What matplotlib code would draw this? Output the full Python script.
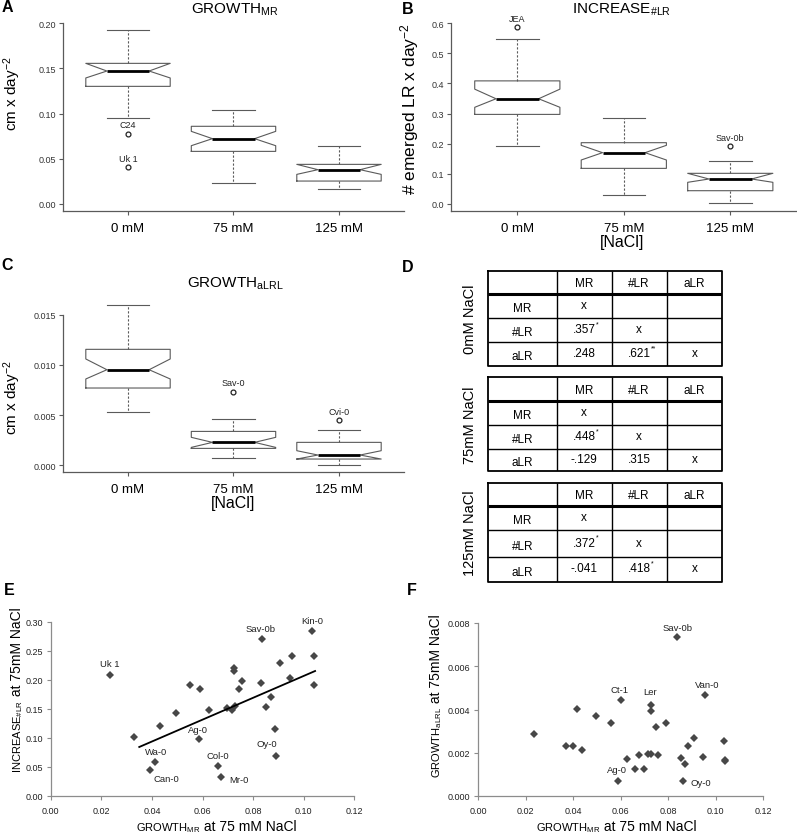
import numpy as np
import matplotlib
matplotlib.use("Agg")
from matplotlib import pyplot as plt

plt.rcParams['font.family'] = ['Liberation Sans', 'DejaVu Sans']
plt.rcParams['mathtext.fontset'] = 'custom'
plt.rcParams['mathtext.rm'] = 'Liberation Sans'
plt.rcParams['mathtext.it'] = 'Liberation Sans:italic'
plt.rcParams['mathtext.bf'] = 'Liberation Sans:bold'

W, H = 797, 837

# ---------------- data ----------------
conc_labels = ["0 mM", "75 mM", "125 mM"]

# GROWTH_MR box summaries
mr_whislo = [0.0950, 0.0229, 0.0163]
mr_q1 = [0.1301, 0.0580, 0.0251]
mr_cilo = [0.1394, 0.0643, 0.0325]
mr_med = [0.1471, 0.0721, 0.0377]
mr_cihi = [0.1556, 0.0802, 0.0436]
mr_q3 = [0.1556, 0.0858, 0.0436]
mr_whishi = [0.1926, 0.1039, 0.0640]
mr_fliers = [[0.0776, 0.0403], [], []]
mr_flier_names = [["C24", "Uk 1"], [], []]

# INCREASE_#LR box summaries
lr_whislo = [0.1919, 0.0299, 0.0022]
lr_q1 = [0.2970, 0.1175, 0.0432]
lr_cilo = [0.3206, 0.1453, 0.0711]
lr_med = [0.3490, 0.1697, 0.0821]
lr_cihi = [0.3810, 0.1941, 0.1010]
lr_q3 = [0.4085, 0.2029, 0.1010]
lr_whishi = [0.5467, 0.2839, 0.1409]
lr_fliers = [[0.5867], [], [0.1908]]
lr_flier_names = [["JEA"], [], ["Sav-0b"]]

# GROWTH_aLRL box summaries
alr_whislo = [0.00528, 0.00070, 0.00003]
alr_q1 = [0.00770, 0.00169, 0.00063]
alr_cilo = [0.00860, 0.00179, 0.00063]
alr_med = [0.00952, 0.00229, 0.00103]
alr_cihi = [0.01059, 0.00279, 0.00146]
alr_q3 = [0.01155, 0.00338, 0.00229]
alr_whishi = [0.01596, 0.00458, 0.00352]
alr_fliers = [[], [0.00733], [0.00451]]
alr_flier_names = [[], ["Sav-0"], ["Cvi-0"]]

# correlation tables (D)
cond_labels = ["0mM NaCl", "75mM NaCl", "125mM NaCl"]
traits = ["MR", "#LR", "aLR"]
corr_mr_lr = [0.357, 0.448, 0.372]
corr_mr_alr = [0.248, -0.129, -0.041]
corr_lr_alr = [0.621, 0.315, 0.418]
stars_mr_lr = ["*", "*", "*"]
stars_mr_alr = ["", "", ""]
stars_lr_alr = ["**", "", "*"]

# scatter E: GROWTH_MR vs INCREASE_#LR at 75 mM
e_x = [0.0233, 0.0329, 0.0394, 0.0411, 0.0431, 0.0494, 0.0551, 0.0586, 0.0591, 0.0624,
       0.0661, 0.0673, 0.0696, 0.0716, 0.0725, 0.0725, 0.0729, 0.0745, 0.0756, 0.0832,
       0.0837, 0.0850, 0.0869, 0.0886, 0.0890, 0.0907, 0.0946, 0.0955, 0.1034, 0.1039, 0.1042]
e_y = [0.2086, 0.1017, 0.0443, 0.0586, 0.1207, 0.1431, 0.1908, 0.0977, 0.1839, 0.1489,
       0.0523, 0.0328, 0.1523, 0.1489, 0.2201, 0.2155, 0.1552, 0.1839, 0.1977, 0.1954,
       0.2713, 0.1529, 0.1701, 0.1149, 0.0684, 0.2287, 0.2034, 0.2414, 0.2839, 0.2420, 0.1920]
e_names = ["Uk 1", "", "Can-0", "Wa-0", "", "", "", "Ag-0", "", "",
           "Col-0", "Mr-0", "", "", "", "", "", "", "", "",
           "Sav-0b", "", "", "", "Oy-0", "", "", "", "Kin-0", "", ""]
e_trend_x = [0.035, 0.1045]
e_trend_y = [0.0845, 0.2155]

# scatter F: GROWTH_MR vs GROWTH_aLRL at 75 mM
f_x = [0.0237, 0.0370, 0.0398, 0.0417, 0.0437, 0.0498, 0.0558, 0.0588, 0.0600, 0.0626,
       0.0663, 0.0677, 0.0700, 0.0717, 0.0728, 0.0727, 0.0727, 0.0748, 0.0759, 0.0793,
       0.0839, 0.0853, 0.0862, 0.0872, 0.0886, 0.0908, 0.0946, 0.0955, 0.1035, 0.1041, 0.1042]
f_y = [0.00285, 0.00231, 0.00231, 0.00403, 0.00215, 0.00371, 0.00339, 0.00069, 0.00442, 0.00169,
       0.00125, 0.00188, 0.00125, 0.00192, 0.00195, 0.00423, 0.00391, 0.00319, 0.00191, 0.00339,
       0.00735, 0.00177, 0.00069, 0.00149, 0.00231, 0.00266, 0.00182, 0.00466, 0.00254, 0.00166, 0.00160]
f_names = ["", "", "", "", "", "", "", "Ag-0", "Ct-1", "",
           "", "", "", "", "", "Ler", "", "", "", "",
           "Sav-0b", "", "Oy-0", "", "", "", "", "Van-0", "", "", ""]


# ---------------- helpers ----------------
def px_axes(l, t, r, b):
    return fig.add_axes([l / W, 1 - b / H, (r - l) / W, (b - t) / H])


def ftext(x, y, s, **kw):
    return fig.text(x / W, 1 - y / H, s, **kw)


def box_panel(ax, whislo, q1, cilo, med, cihi, q3, whishi, fliers, names, ylim, yticks, yfmt):
    stats = []
    for i in range(len(med)):
        stats.append(dict(whislo=whislo[i], q1=q1[i], cilo=cilo[i], med=med[i], cihi=cihi[i],
                          q3=q3[i], whishi=whishi[i], fliers=np.array(fliers[i])))
    grey = '#5a5a5a'
    ax.bxp(stats, positions=[1, 2, 3], widths=0.8, shownotches=True, showfliers=True,
           boxprops=dict(color=grey, lw=0.8),
           whiskerprops=dict(color=grey, lw=0.8, linestyle=(0, (2, 1.6))),
           capprops=dict(color=grey, lw=0.8),
           medianprops=dict(color='black', lw=2),
           flierprops=dict(marker='o', markersize=3.5, markerfacecolor='none',
                           markeredgecolor='#222222', markeredgewidth=0.9))
    for i in range(len(med)):
        for v, n in zip(fliers[i], names[i]):
            ax.annotate(n, (i + 1, v), xytext=(0, 9), textcoords='offset pixels',
                        ha='center', va='center', fontsize=6.5, color='#222222')
    ax.set_xlim(0.38, 3.62)
    ax.set_ylim(*ylim)
    ax.spines[['top', 'right']].set_visible(False)
    for s in ['left', 'bottom']:
        ax.spines[s].set_color(grey)
        ax.spines[s].set_linewidth(0.9)
    ax.spines['left'].set_bounds(ylim[0], yticks[-1])
    ax.set_yticks(yticks)
    ax.set_yticklabels([yfmt.format(v) for v in yticks])
    ax.set_xticks([1, 2, 3])
    ax.set_xticklabels(conc_labels)
    ax.tick_params(axis='y', labelsize=6.5, length=3, width=0.8, color=grey, pad=2, labelcolor='#333333')
    ax.tick_params(axis='x', labelsize=9.5, length=3, width=0.8, color=grey, pad=5)


def excel_axes(ax, xticks, yticks, xfmt, yfmt):
    grey = '#8c8c8c'
    ax.set_xlim(xticks[0], xticks[-1])
    ax.set_ylim(yticks[0], yticks[-1])
    ax.spines[['top', 'right']].set_visible(False)
    for s in ['left', 'bottom']:
        ax.spines[s].set_color(grey)
        ax.spines[s].set_linewidth(0.9)
    ax.set_xticks(xticks)
    ax.set_xticklabels([xfmt.format(v) for v in xticks])
    ax.set_yticks(yticks)
    ax.set_yticklabels([yfmt.format(v) for v in yticks])
    ax.tick_params(labelsize=6.5, length=3, width=0.8, color=grey, pad=2.5, labelcolor='#222222')
    ax.tick_params(axis='x', pad=4)


def split_label(x, y, small, big, small_size, big_size, rotation=0):
    ftext(x, y, small, fontsize=small_size, ha='right', va='baseline',
          rotation=rotation, rotation_mode='anchor')
    ftext(x, y, big, fontsize=big_size, ha='left', va='baseline',
          rotation=rotation, rotation_mode='anchor')


def r_text(v):
    return f"{v:.3f}".replace("0.", ".", 1)


fig = plt.figure(figsize=(W / 100, H / 100), dpi=100)

# ---------------- A ----------------
axA = px_axes(62.6, 17.1, 404.4, 211.9)
box_panel(axA, mr_whislo, mr_q1, mr_cilo, mr_med, mr_cihi, mr_q3, mr_whishi,
          mr_fliers, mr_flier_names, (-0.008, 0.208), [0, 0.05, 0.10, 0.15, 0.20], "{:.2f}")
ftext(235, 14, r"GROWTH$_{\mathregular{MR}}$", fontsize=11, ha='center', va='baseline')
ftext(12, 94, r"cm x day$^{\mathregular{-2}}$", fontsize=11, rotation=90, ha='center', va='center')

# ---------------- B ----------------
axB = px_axes(451.3, 17.1, 796.3, 211.9)
box_panel(axB, lr_whislo, lr_q1, lr_cilo, lr_med, lr_cihi, lr_q3, lr_whishi,
          lr_fliers, lr_flier_names, (-0.024, 0.624), [0, 0.1, 0.2, 0.3, 0.4, 0.5, 0.6], "{:.1f}")
ftext(622, 13.5, r"INCREASE$_{\#\mathregular{LR}}$", fontsize=11, ha='center', va='baseline')
ftext(410, 109, r"# emerged LR x day$^{\mathregular{-2}}$", fontsize=12.5, rotation=90, ha='center', va='center')
ftext(622, 242, "[NaCl]", fontsize=11.5, ha='center', va='center')

# ---------------- C ----------------
axC = px_axes(62.6, 299.2, 404.4, 472.8)
box_panel(axC, alr_whislo, alr_q1, alr_cilo, alr_med, alr_cihi, alr_q3, alr_whishi,
          alr_fliers, alr_flier_names, (-0.00064, 0.01664), [0, 0.005, 0.010, 0.015], "{:.3f}")
ftext(235, 288, r"GROWTH$_{\mathregular{aLRL}}$", fontsize=11, ha='center', va='baseline')
ftext(12, 398, r"cm x day$^{\mathregular{-2}}$", fontsize=11, rotation=90, ha='center', va='center')
ftext(233, 504, "[NaCl]", fontsize=11.5, ha='center', va='center')

# ---------------- D ----------------
col_edges = [0, 68.4, 123.4, 178.4, 234]
tables_px = [(271.7, [0, 23.3, 47.3, 71.0, 95.6]),
             (378.3, [0, 23.4, 47.4, 71.7, 94.0]),
             (484.0, [0, 22.7, 47.0, 74.3, 98.7])]
for k, (top, rows) in enumerate(tables_px):
    ax = px_axes(488.3, top, 722.3, top + rows[-1])
    ax.set_xlim(0, col_edges[-1])
    ax.set_ylim(rows[-1], 0)
    ax.axis('off')
    for x in col_edges[1:-1]:
        ax.vlines(x, 0, rows[-1], color='black', lw=1.0)
    for i, y in enumerate(rows[1:-1]):
        ax.hlines(y, 0, col_edges[-1], color='black', lw=2.2 if i == 0 else 1.0)
    ax.plot([0, col_edges[-1], col_edges[-1], 0, 0], [0, 0, rows[-1], rows[-1], 0],
            color='black', lw=1.3, clip_on=False)
    cx = [(col_edges[j] + col_edges[j + 1]) / 2 for j in range(4)]
    cy = [(rows[j] + rows[j + 1]) / 2 for j in range(4)]
    for j, t in enumerate(traits):
        ax.text(cx[j + 1], cy[0] + 1, t, ha='center', va='center', fontsize=8.5)
        ax.text(cx[0], cy[j + 1] + 2, t, ha='center', va='center', fontsize=8.5)
        ax.text(cx[j + 1], cy[j + 1] - 1, "x", ha='center', va='center', fontsize=8.5)
    cells = [(2, 1, corr_mr_lr[k], stars_mr_lr[k]),
             (3, 1, corr_mr_alr[k], stars_mr_alr[k]),
             (3, 2, corr_lr_alr[k], stars_lr_alr[k])]
    for r, c, v, st in cells:
        t = ax.text(cx[c], cy[r] - 1, r_text(v), ha='center', va='center', fontsize=8.5)
        if st:
            ax.annotate(st, xy=(1.0, 0.95), xycoords=t, ha='left', va='center', fontsize=5)
    ftext(470, top + rows[-1] / 2, cond_labels[k], fontsize=10.5, rotation=90, ha='center', va='center')

# ---------------- E ----------------
axE = px_axes(50.7, 623, 354.3, 797)
axE.plot(e_x, e_y, 'D', color='#474747', markersize=4, markeredgewidth=0)
axE.plot(e_trend_x, e_trend_y, color='black', lw=1.3)
e_offsets = {"Uk 1": (0, 12), "Sav-0b": (-2, 10), "Kin-0": (0, 11), "Ag-0": (-1, 10),
             "Wa-0": (1, 11), "Can-0": (16, -8), "Col-0": (0, 10), "Mr-0": (18, -3), "Oy-0": (-9, 13)}
for x, y, n in zip(e_x, e_y, e_names):
    if n:
        axE.annotate(n, (x, y), xytext=e_offsets[n], textcoords='offset pixels',
                     ha='center', va='center', fontsize=6.8, color='#222222')
excel_axes(axE, [0, 0.02, 0.04, 0.06, 0.08, 0.10, 0.12],
           [0, 0.05, 0.10, 0.15, 0.20, 0.25, 0.30], "{:.2f}", "{:.2f}")
split_label(200, 831, r"GROWTH$_{\mathregular{MR}}$", " at 75 mM NaCl", 8, 10)
split_label(21, 700, r"INCREASE$_{\#\mathregular{LR}}$", " at 75mM NaCl", 8, 10, rotation=90)

# ---------------- F ----------------
axF = px_axes(478, 624, 763, 797)
axF.plot(f_x, f_y, 'D', color='#474747', markersize=4, markeredgewidth=0)
f_offsets = {"Sav-0b": (0, 10), "Ct-1": (-1, 11), "Ler": (-1, 13), "Van-0": (2, 11),
             "Ag-0": (-1, 12), "Oy-0": (18, -1)}
for x, y, n in zip(f_x, f_y, f_names):
    if n:
        axF.annotate(n, (x, y), xytext=f_offsets[n], textcoords='offset pixels',
                     ha='center', va='center', fontsize=6.8, color='#222222')
excel_axes(axF, [0, 0.02, 0.04, 0.06, 0.08, 0.10, 0.12],
           [0, 0.002, 0.004, 0.006, 0.008], "{:.2f}", "{:.3f}")
split_label(600, 831, r"GROWTH$_{\mathregular{MR}}$", " at 75 mM NaCl", 8, 10)
split_label(440, 707, r"GROWTH$_{\mathregular{aLRL}}$", " at 75mM NaCl", 8, 10, rotation=90)

# ---------------- panel letters ----------------
for s, x, y in [("A", 7, 8), ("B", 408, 9), ("C", 7, 266), ("D", 408, 268), ("E", 9, 591), ("F", 412, 591)]:
    ftext(x, y, s, fontsize=11.5, fontweight='bold', ha='center', va='center')

fig.savefig("out.png", dpi=100)
